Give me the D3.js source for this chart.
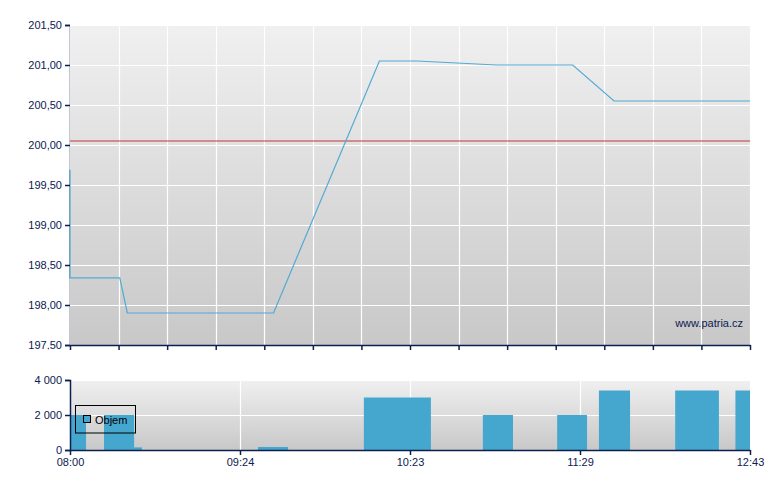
<!DOCTYPE html>
<html><head><meta charset="utf-8">
<script src="https://cdn.jsdelivr.net/npm/d3@7/dist/d3.min.js"></script>
<style>
html,body{margin:0;padding:0;background:#fff;}
svg{display:block;font-family:"Liberation Sans",Arial,sans-serif;}
</style></head>
<body>
<svg id="c" width="780" height="490"></svg>
<script>
// ---- data ----
const priceX = [0, 0, 20.5, 23.6, 83.8, 127.4, 142.9, 175.7, 207, 224, 280];
const priceY = [199.69, 198.34, 198.34, 197.90, 197.90, 201.05, 201.05, 201.00, 201.00, 200.55, 200.55];
const refPrice = 200.05;
const priceTicks = [197.5, 198, 198.5, 199, 199.5, 200, 200.5, 201, 201.5];
const volStart = [0, 14, 26.4, 77.4, 121, 170, 200.6, 217.8, 249.2, 274];
const volEnd   = [6.6, 26.4, 29.6, 89.8, 148.6, 182.4, 212.9, 230.6, 267.2, 280];
const volValue = [2000, 2000, 150, 170, 3000, 2000, 2000, 3400, 3400, 3400];
const volTicks = [0, 2000, 4000];
const volTickLabels = ["0", "2 000", "4 000"];
const gridX = [0, 20, 40, 60, 80, 100, 120, 140, 160, 180, 200, 220, 240, 260, 280];
const timeTickPos = [0, 70, 140, 210, 280];
const timeTickLabels = ["08:00", "09:24", "10:23", "11:29", "12:43"];
const legendLabel = "Objem";
const watermark = "www.patria.cz";

// ---- chart ----
const navy = "#0c2050";
const lineColor = "#52aad3";
const barColor = "#45a6ce";
const svg = d3.select("#c");

const x = d3.scaleLinear().domain([0, 280]).range([70, 750]);
const yP = d3.scaleLinear().domain([197.5, 201.5]).range([345, 25]);
const yV = d3.scaleLinear().domain([0, 4000]).range([450, 380]);

const defs = svg.append("defs");
const grad = defs.append("linearGradient").attr("id", "bg").attr("x1", 0).attr("y1", 0).attr("x2", 0).attr("y2", 1);
grad.append("stop").attr("offset", "0%").attr("stop-color", "#f0f0f0");
grad.append("stop").attr("offset", "100%").attr("stop-color", "#c8c8c8");
defs.append("clipPath").attr("id", "lblclip").append("rect")
  .attr("x", 0).attr("y", 0).attr("width", 70).attr("height", 349.5);

// main panel background
svg.append("rect").attr("x", x(0)).attr("y", yP(201.5)).attr("width", x(280) - x(0))
  .attr("height", yP(197.5) - yP(201.5)).attr("fill", "url(#bg)");

// grid main
const gm = svg.append("g").attr("stroke", "#ffffff").attr("stroke-width", 1.2);
gm.selectAll(".gx").data(gridX.slice(1)).enter().append("line")
  .attr("x1", d => Math.round(x(d)) + 0.5).attr("x2", d => Math.round(x(d)) + 0.5)
  .attr("y1", yP(201.5)).attr("y2", yP(197.5));
gm.selectAll(".gy").data(priceTicks.slice(1)).enter().append("line")
  .attr("x1", x(0)).attr("x2", x(280))
  .attr("y1", d => Math.round(yP(d)) + 0.5).attr("y2", d => Math.round(yP(d)) + 0.5);

// watermark
svg.append("text").attr("x", 743).attr("y", 327).attr("text-anchor", "end")
  .attr("font-size", 11).attr("fill", navy).text(watermark);

// reference line
svg.append("line").attr("x1", x(0)).attr("x2", x(280))
  .attr("y1", yP(refPrice)).attr("y2", yP(refPrice))
  .attr("stroke", "#c03838").attr("stroke-width", 1);

// price line
const pts = priceX.map((d, i) => [d, priceY[i]]);
svg.append("path").datum(pts)
  .attr("d", d3.line().x(d => x(d[0])).y(d => yP(d[1])))
  .attr("fill", "none").attr("stroke", lineColor).attr("stroke-width", 1.2);

// axes main
const fmt = v => d3.format(".2f")(v).replace(".", ",");
const ay = svg.append("g").attr("transform", "translate(70,0)")
  .call(d3.axisLeft(yP).tickValues(priceTicks).tickFormat(fmt).tickSize(5).tickPadding(3));
ay.select(".domain").attr("stroke", navy).attr("stroke-width", 1.5);
ay.selectAll(".tick line").attr("stroke", navy).attr("stroke-width", 1.5);
ay.selectAll("text").attr("fill", navy).attr("font-size", 11).attr("font-family", "Liberation Sans, Arial, sans-serif");
ay.attr("clip-path", null);
ay.selectAll(".tick text").attr("clip-path", null);
svg.append("g").attr("clip-path", "url(#lblclip)").node().appendChild(ay.node());

const ax = svg.append("g").attr("transform", "translate(0,345)")
  .call(d3.axisBottom(x).tickValues(gridX).tickFormat("").tickSize(5).tickSizeOuter(0));
ax.select(".domain").attr("stroke", navy).attr("stroke-width", 1.5);
ax.selectAll(".tick line").attr("stroke", navy).attr("stroke-width", 1.5);

// volume panel
svg.append("rect").attr("x", x(0)).attr("y", yV(4000)).attr("width", x(280) - x(0))
  .attr("height", yV(0) - yV(4000)).attr("fill", "url(#bg)");
const gv = svg.append("g").attr("stroke", "#ffffff").attr("stroke-width", 1.2);
gv.selectAll(".vx").data(timeTickPos.slice(1, 4)).enter().append("line")
  .attr("x1", d => Math.round(x(d)) + 0.5).attr("x2", d => Math.round(x(d)) + 0.5)
  .attr("y1", yV(4000)).attr("y2", yV(0));
gv.selectAll(".vy").data(volTicks.slice(1)).enter().append("line")
  .attr("x1", x(0)).attr("x2", x(280))
  .attr("y1", d => Math.round(yV(d)) + 0.5).attr("y2", d => Math.round(yV(d)) + 0.5);

svg.append("g").selectAll("rect").data(volValue).enter().append("rect")
  .attr("x", (d, i) => x(volStart[i]))
  .attr("width", (d, i) => x(volEnd[i]) - x(volStart[i]))
  .attr("y", d => yV(d)).attr("height", d => yV(0) - yV(d))
  .attr("fill", barColor);

const avy = svg.append("g").attr("transform", "translate(70,0)")
  .call(d3.axisLeft(yV).tickValues(volTicks).tickFormat((d, i) => volTickLabels[i]).tickSize(5).tickPadding(3));
avy.select(".domain").attr("stroke", navy).attr("stroke-width", 1.5);
avy.selectAll(".tick line").attr("stroke", navy).attr("stroke-width", 1.5);
avy.selectAll("text").attr("fill", navy).attr("font-size", 11).attr("font-family", "Liberation Sans, Arial, sans-serif");

const avx = svg.append("g").attr("transform", "translate(0,450)")
  .call(d3.axisBottom(x).tickValues(timeTickPos).tickFormat((d, i) => timeTickLabels[i]).tickSize(5).tickSizeOuter(0).tickPadding(3));
avx.select(".domain").attr("stroke", navy).attr("stroke-width", 1.5);
avx.selectAll(".tick line").attr("stroke", navy).attr("stroke-width", 1.5);
avx.selectAll("text").attr("fill", navy).attr("font-size", 11).attr("font-family", "Liberation Sans, Arial, sans-serif");

// legend
const lg = svg.append("g");
lg.append("rect").attr("x", 75.5).attr("y", 405.5).attr("width", 60).attr("height", 27.5)
  .attr("fill", "none").attr("stroke", "#000").attr("stroke-width", 1);
lg.append("rect").attr("x", 83.5).attr("y", 415.5).attr("width", 7).attr("height", 7)
  .attr("fill", barColor).attr("stroke", "#000").attr("stroke-width", 1);
lg.append("text").attr("x", 95).attr("y", 424).attr("font-size", 11).attr("fill", "#000").text(legendLabel);
</script>
</body></html>
